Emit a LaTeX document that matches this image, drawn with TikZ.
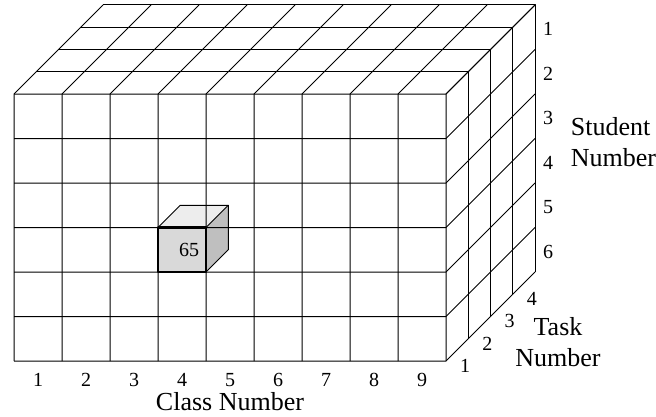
\documentclass[tikz,border=0pt]{standalone}
\usepackage{fontspec}
\setmainfont{Liberation Serif}

\begin{document}
\begin{tikzpicture}[x=48pt, y=44.5pt, z={(22.25pt,22.25pt)}, line width=1pt, line join=round,
  every node/.style={font=\fontsize{20}{24}\selectfont},
  axislabel/.style={font=\fontsize{26}{31}\selectfont, align=center}]
  \useasboundingbox (-14pt,-55pt) rectangle (642pt,361pt);

  % === highlighted cell: fills first, grid lines go over them ===
  \fill[black!7] (3,3,0) -- (4,3,0) -- (4,3,1) -- (3,3,1) -- cycle;
  \fill[black!25] (4,2,0) -- (4,3,0) -- (4,3,1) -- (4,2,1) -- cycle;
  \fill[black!15] (3,2,0) rectangle (4,3,0);

  % === block of 9 x 6 x 4 cells ===
  \foreach \i in {0,...,9} {
    \draw (\i,0,0) -- (\i,6,0) -- (\i,6,4);
  }
  \foreach \j in {0,...,6} {
    \draw (0,\j,0) -- (9,\j,0) -- (9,\j,4);
  }
  \foreach \k in {1,...,4} {
    \draw (0,6,\k) -- (9,6,\k) -- (9,0,\k);
  }

  % cell edges
  \draw (3,3,0) -- (3,3,1) -- (4,3,1) -- (4,2,1) -- (4,2,0);
  \draw (4,3,0) -- (4,3,1);
  \draw[line width=2.4pt] (3,2,0) rectangle (4,3,0);
  \node (cell) at (3.5,2.5,0) [xshift=7pt] {65};

  % === axis numbers ===
  \foreach \i in {1,...,9}
    \node (class\i) at ({\i-0.5},0,0) [yshift=-19pt] {\i};
  \foreach \s in {1,...,6}
    \node (student\s) at (9,{6.5-\s},4) [xshift=13pt, yshift=-2pt] {\s};
  \foreach \t in {1,...,4}
    \node (task\t) at (9,0,{\t-0.5}) [xshift=8pt, yshift=-16pt] {\t};

  % === axis names ===
  \node[axislabel] (classname) at (4.5,0,0) [yshift=-41pt] {Class Number};
  \node[axislabel, align=left, anchor=west] (studentname) at (553pt,219pt) {Student\\Number};
  \node[axislabel] (taskname) at (544pt,18.5pt) {Task\\Number};
\end{tikzpicture}
\end{document}
